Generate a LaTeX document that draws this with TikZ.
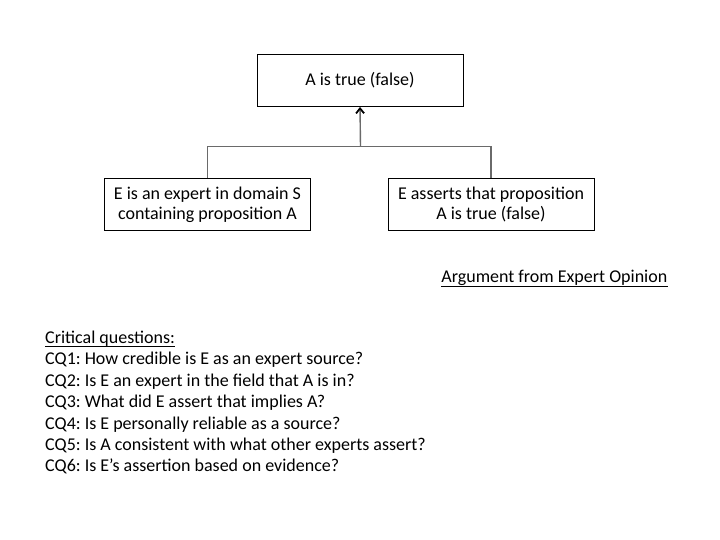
\documentclass[tikz,border=0pt]{standalone}
\usepackage{fontspec}
\setmainfont{Carlito}
\usetikzlibrary{arrows.meta}
\definecolor{linkgray}{HTML}{6A6A6A}
\frenchspacing

\tikzset{
  box/.style={draw=black, line width=0.9pt, minimum width=206pt, minimum height=52pt,
    inner sep=0pt, align=center, font=\fontsize{18}{20}\selectfont},
  link/.style={draw=linkgray, line width=1.4pt},
  qline/.style={anchor=base west, inner sep=0pt, font=\fontsize{18}{21.4}\selectfont},
  uline/.style={draw=black, line width=0.8pt}
}

\begin{document}
\begin{tikzpicture}[x=1pt,y=-1pt]
\useasboundingbox (0,0) rectangle (720,540);
% the argument boxes
\node[box] (claim) at (360,80.5) {A is true (false)};
\node[box] (expert) at (207.5,204.5) {E is an expert in domain S\\containing proposition A};
\node[box] (assert) at (491,204.5) {E asserts that proposition\\A is true (false)};
\coordinate (join) at (360.5,146.5);
\draw[link] (expert.north) |- (join) -| (assert.north);
\draw[link,-{Straight Barb[black,length=5pt,width=8pt,line width=1.8pt]}] (join) -- (claim.south);
% scheme name
\node[qline,anchor=base east] (title) at (667.5,282.5) {Argument from Expert Opinion};
\draw[uline] ([yshift=-3.5pt]title.base west) -- ([yshift=-3.5pt]title.base east);
% the questions
\node[qline] (crit) at (45,343.5) {Critical questions:};
\draw[uline] ([yshift=-2.5pt]crit.base west) -- ([yshift=-2.5pt]crit.base east);
\foreach \t [count=\i] in {CQ1: How credible is E as an expert source?,
  CQ2: Is E an expert in the field that A is in?,
  CQ3: What did E assert that implies A?,
  CQ4: Is E personally reliable as a source?,
  CQ5: Is A consistent with what other experts assert?,
  CQ6: Is E’s assertion based on evidence?}
  \node[qline] (cq\i) at (45,343.5+21.4*\i) {\t};
\end{tikzpicture}
\end{document}
